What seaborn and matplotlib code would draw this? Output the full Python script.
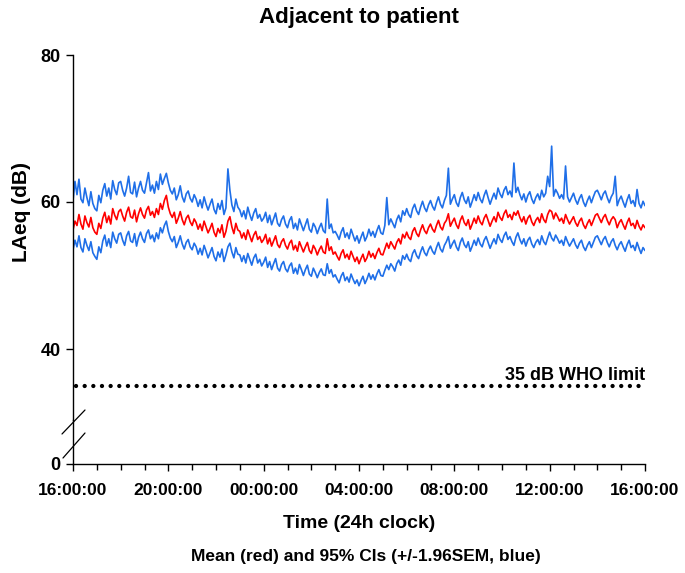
import numpy as np
import pandas as pd
import matplotlib
matplotlib.use("Agg")
import matplotlib.pyplot as plt
from matplotlib.lines import Line2D
import seaborn as sns

# ---- data (5-minute resolution, 16:00 -> 16:00 next day), dB ----
mean_db = [
    56.2, 57.4, 56.8, 58.3, 57.0, 56.3, 58.1, 57.2, 56.6, 57.9, 56.5, 55.9,
    55.6, 57.1, 56.4, 57.8, 58.6, 57.2, 58.1, 57.0, 59.1, 58.2, 57.6, 58.7,
    59.0, 58.1, 57.4, 58.6, 59.3, 58.0, 57.8, 58.9, 57.3, 58.4, 59.2, 58.3,
    57.8, 58.9, 59.4, 58.2, 58.7, 57.9, 59.1, 58.3, 59.8, 59.0, 60.2, 60.9,
    59.3, 58.4, 57.9, 58.6, 57.1, 57.8, 58.7, 57.6, 56.9, 57.8, 58.2, 57.3,
    56.8, 57.7, 57.2, 56.3, 57.0, 56.1, 57.4, 56.6, 55.8, 56.4, 57.1, 55.9,
    55.3, 56.4, 55.8, 56.9, 55.2, 56.0, 57.4, 58.0, 56.6, 55.7, 57.1, 56.2,
    56.0, 55.1, 55.8, 54.9, 56.2, 55.4, 54.6, 55.5, 56.0, 54.9, 55.3, 54.5,
    54.9, 55.6, 54.3, 55.1, 54.0, 54.7, 55.4, 54.2, 53.8, 54.6, 55.0, 54.1,
    53.6, 54.4, 54.8, 53.5, 54.1, 53.3, 54.6, 53.9, 53.2, 53.9, 54.5, 53.4,
    53.0, 54.1, 53.6, 52.8, 53.5, 54.0, 53.2, 53.0, 55.0, 53.4, 53.9, 52.9,
    53.2, 52.6, 52.1, 53.0, 53.5, 52.4, 52.9, 52.2, 53.3, 52.6, 51.9, 52.5,
    51.6, 52.3, 52.9, 51.9, 52.4, 53.3, 52.5, 53.0, 52.3, 53.1, 53.7, 52.9,
    52.8, 53.6, 54.4, 53.7, 54.6, 54.1, 53.6, 54.5, 55.0, 54.3, 55.6, 55.1,
    55.9, 55.2, 54.9, 56.0, 56.5, 55.7, 55.3, 56.2, 56.9, 56.1, 55.7, 56.5,
    57.0, 56.3, 55.9, 56.8, 57.5, 56.6, 56.2, 57.1, 57.5, 58.4, 56.7, 57.3,
    57.8, 56.9, 56.4, 57.5, 58.1, 57.2, 56.8, 57.6, 56.3, 57.0, 57.8, 57.1,
    58.1, 57.3, 56.9, 57.8, 58.3, 57.5, 56.7, 57.4, 58.0, 57.3, 58.6, 57.9,
    57.5, 58.4, 58.9, 57.9, 58.3, 57.6, 58.6, 58.2, 58.8, 57.9, 57.3, 58.0,
    57.0, 57.8, 58.2, 57.3, 56.8, 57.5, 57.9, 57.2, 58.4, 57.6, 57.2, 58.3,
    58.9, 58.7, 57.7, 58.5, 58.0, 57.4, 57.8, 57.1, 58.3, 57.6, 57.0, 57.5,
    58.0, 57.2, 56.7, 57.4, 57.8, 56.9, 56.4, 57.1, 57.6, 56.8, 57.5, 58.2,
    58.4, 57.8, 57.2, 57.9, 58.3, 57.5, 56.9, 57.6, 58.0, 57.6, 56.5, 57.2,
    57.6, 56.9, 56.3, 57.2, 57.8, 56.8, 57.1, 56.4, 57.5, 56.7, 56.2, 56.9,
    56.5,
]
upper_db = [
    60.2, 62.8, 61.0, 63.1, 60.4, 59.9, 61.9, 60.6, 59.5, 61.4, 59.8, 59.1,
    58.8, 60.9, 59.9, 61.6, 62.5, 60.8, 61.9, 60.4, 62.9, 61.7, 61.0, 62.6,
    62.8, 61.6, 60.8, 61.9, 63.5, 61.3, 61.1, 62.7, 60.7, 61.9, 62.8, 61.6,
    61.2, 62.6, 64.0, 61.5, 62.3, 61.2, 62.8, 61.7, 63.8, 62.4, 63.2, 63.9,
    62.6, 61.6, 61.1, 61.9, 60.3, 61.0, 62.2, 60.7, 60.0, 61.1, 61.5, 60.5,
    60.0, 61.0, 60.4, 59.4, 60.3, 59.2, 60.7, 59.7, 58.9, 59.7, 60.4, 59.0,
    58.4, 59.8, 59.0, 60.2, 58.3, 59.2, 64.5, 61.6, 59.6, 58.7, 60.4, 59.3,
    58.9, 58.0, 58.8, 57.7, 59.3, 58.3, 57.5, 58.5, 59.1, 57.8, 58.3, 57.4,
    57.8, 58.6, 57.2, 58.2, 56.9, 57.7, 58.5, 57.1, 56.7, 57.6, 58.1, 57.0,
    56.5, 57.5, 58.0, 56.4, 57.1, 56.2, 57.7, 56.9, 56.1, 56.9, 57.7, 56.3,
    55.9, 57.1, 56.6, 55.7, 56.5, 57.1, 56.1, 55.8, 60.4, 56.4, 57.0, 55.8,
    56.0, 55.5, 54.9, 55.9, 56.5, 55.2, 55.8, 55.0, 56.3, 55.5, 54.7, 55.4,
    54.4, 55.2, 55.9, 54.7, 55.3, 56.3, 55.4, 56.0, 55.2, 56.1, 56.8, 55.8,
    55.6, 56.8, 60.6, 56.9, 57.7, 57.1, 56.5, 57.6, 58.2, 57.3, 58.8, 58.2,
    59.1, 58.3, 57.9, 59.1, 59.7, 58.8, 58.3, 59.3, 60.1, 59.2, 58.7, 59.6,
    60.2, 59.4, 58.9, 59.9, 60.7, 59.7, 59.2, 60.2, 60.9, 64.6, 59.7, 60.4,
    61.0, 59.9, 59.4, 60.6, 61.3, 60.3, 59.8, 60.7, 59.3, 60.1, 61.0, 60.2,
    61.3, 60.4, 59.9, 60.9, 61.6, 60.6, 59.7, 60.5, 61.2, 60.4, 61.9, 61.1,
    60.6, 61.6, 62.1, 61.0, 61.5, 60.7, 65.3, 61.3, 62.0, 61.0, 60.3, 61.1,
    60.0, 60.9, 61.4, 60.4, 59.8, 60.6, 61.1, 60.3, 61.6, 60.7, 61.2, 63.5,
    62.1, 67.6, 60.8, 61.7, 61.2, 60.5, 61.0, 60.4, 64.9, 60.7, 60.0, 60.6,
    61.2, 60.3, 59.7, 60.5, 61.0, 60.0, 59.4, 60.2, 60.8, 59.9, 60.7, 61.4,
    61.6, 61.0, 60.3, 61.1, 61.5, 60.6, 59.9, 60.7, 61.2, 63.5, 59.5, 60.3,
    60.8, 60.0, 59.3, 60.3, 61.0, 59.8, 60.2, 59.4, 61.7, 59.8, 59.2, 60.1,
    59.5,
]
lower_db = [
    53.5, 54.8, 53.9, 55.4, 53.8, 53.2, 55.0, 54.1, 53.4, 54.6, 53.1, 52.6,
    52.2, 53.9, 53.1, 54.7, 55.5, 54.0, 55.0, 53.8, 55.9, 55.0, 54.4, 55.6,
    55.8, 54.8, 54.1, 55.4, 56.0, 54.7, 54.5, 55.7, 54.0, 55.2, 55.9, 55.0,
    54.5, 55.7, 56.2, 55.0, 55.5, 54.6, 55.8, 55.0, 56.5, 55.8, 56.8, 57.4,
    56.0, 55.1, 54.6, 55.3, 53.8, 54.5, 55.4, 54.3, 53.6, 54.5, 54.9, 53.9,
    53.5, 54.4, 53.9, 52.9, 53.7, 52.8, 54.1, 53.3, 52.4, 53.1, 53.8, 52.6,
    52.0, 53.2, 52.5, 53.6, 51.9, 52.8, 53.9, 54.4, 53.2, 52.4, 53.8, 52.9,
    52.8, 51.9, 52.7, 51.7, 53.0, 52.2, 51.4, 52.4, 52.9, 51.7, 52.2, 51.3,
    51.8, 52.5, 51.1, 51.9, 50.8, 51.6, 52.3, 51.0, 50.6, 51.5, 51.9, 50.9,
    50.5, 51.3, 51.7, 50.3, 51.0, 50.2, 51.5, 50.8, 50.0, 50.8, 51.4, 50.2,
    49.9, 51.0, 50.4, 49.7, 50.4, 50.9, 50.1, 50.0, 51.6, 50.3, 50.8, 49.8,
    50.1, 49.5, 49.0, 49.9, 50.4, 49.3, 49.8, 49.1, 50.2, 49.5, 48.9, 49.4,
    48.6, 49.3, 49.9, 48.9, 49.5, 50.3, 49.5, 50.1, 49.4, 50.2, 50.8, 50.0,
    49.9, 50.7, 51.4, 50.8, 51.6, 51.2, 50.6, 51.6, 52.1, 51.4, 52.7, 52.2,
    52.9, 52.2, 51.9, 53.0, 53.5, 52.7, 52.3, 53.2, 53.9, 53.1, 52.7, 53.5,
    54.0, 53.3, 52.9, 53.8, 54.5, 53.6, 53.2, 54.1, 54.6, 55.3, 53.7, 54.3,
    54.8, 53.9, 53.4, 54.5, 55.1, 54.2, 53.8, 54.6, 53.3, 54.0, 54.8, 54.1,
    55.1, 54.3, 53.9, 54.8, 55.3, 54.5, 53.7, 54.4, 55.0, 54.3, 55.6, 54.9,
    54.5, 55.4, 55.9, 54.9, 55.3, 54.6, 54.1, 55.2, 55.8, 54.9, 54.3, 55.0,
    54.0, 54.8, 55.2, 54.3, 53.8, 54.5, 54.9, 54.2, 55.4, 54.6, 54.2, 55.1,
    55.9, 55.1, 54.7, 55.5, 55.0, 54.4, 54.8, 54.1, 55.3, 54.6, 54.0, 54.5,
    55.0, 54.2, 53.7, 54.4, 54.8, 53.9, 53.4, 54.1, 54.6, 53.8, 54.5, 55.2,
    55.4, 54.8, 54.2, 54.9, 55.3, 54.5, 53.9, 54.6, 55.0, 54.1, 53.5, 54.2,
    54.6, 53.9, 53.3, 54.2, 54.8, 53.8, 54.1, 53.4, 54.5, 53.7, 53.0, 53.8,
    53.4,
]
who_limit = 35
tick_labels = ["16:00:00", "20:00:00", "00:00:00", "04:00:00",
               "08:00:00", "12:00:00", "16:00:00"]

n = min(len(mean_db), len(upper_db), len(lower_db))
hours = np.arange(n) * 24.0 / (n - 1)
df = pd.DataFrame({"hours": hours, "mean": mean_db[:n],
                   "upper": upper_db[:n], "lower": lower_db[:n]})

sns.set_theme(style="ticks")
plt.rcParams["font.family"] = ["Liberation Sans", "DejaVu Sans"]
plt.rcParams["font.weight"] = "bold"
plt.rcParams["text.color"] = "black"
plt.rcParams["axes.labelcolor"] = "black"
plt.rcParams["xtick.color"] = "black"
plt.rcParams["ytick.color"] = "black"

W, H = 685, 573
fig = plt.figure(figsize=(W / 100, H / 100), dpi=100)

def fx(px):
    return px / W

def fy(py):
    return 1 - py / H

left, right = 73, 645
top_ax_top, top_ax_bot, bot_ax_bot = 55, 420, 464
px_per_db = (348 - 201) / 20.0

ax = fig.add_axes([fx(left), fy(top_ax_bot), fx(right - left),
                   (top_ax_bot - top_ax_top) / H])
axb = fig.add_axes([fx(left), fy(bot_ax_bot), fx(right - left),
                    (bot_ax_bot - top_ax_bot) / H], sharex=ax)

blue = "#1f6fe8"
red = "#ff0000"
for col, c in [("upper", blue), ("lower", blue), ("mean", red)]:
    sns.lineplot(data=df, x="hours", y=col, ax=ax, color=c, lw=1.2,
                 estimator=None, legend=False)

# WHO limit
ax.plot([0.12, 24], [who_limit, who_limit], color="black",
        lw=3.1, linestyle=(0, (0.01, 2.0)), dash_capstyle="round")
ax.text(24, 35.85, f"{who_limit} dB WHO limit",
        ha="right", va="baseline", fontsize=13, fontweight="bold",
        color="black")

ax.set_xlim(0, 24)
ax.set_ylim(80 - (top_ax_bot - top_ax_top) / px_per_db, 80)
axb.set_ylim(0, (bot_ax_bot - top_ax_bot) / px_per_db)

ax.set_yticks([40, 60, 80])
axb.set_yticks([0])
for a in (ax, axb):
    a.spines["right"].set_visible(False)
    a.spines["top"].set_visible(False)
    for s in ("left", "bottom"):
        a.spines[s].set_linewidth(1.0)
        a.spines[s].set_color("black")
    a.tick_params(axis="y", direction="out", length=5, width=1.0,
                  labelsize=13, pad=4, colors="black")
    a.set_facecolor("none")
    a.set_xlabel("")
    a.set_ylabel("")
ax.spines["bottom"].set_visible(False)
ax.tick_params(axis="x", which="both", bottom=False, labelbottom=False)

axb.set_xticks(np.arange(0, 25, 4))
axb.set_xticks(np.arange(0, 25, 1), minor=True)
axb.set_xticklabels(tick_labels)
axb.tick_params(axis="x", which="major", direction="out", length=5,
                width=1.0, labelsize=12.5, pad=9, colors="black")
axb.tick_params(axis="x", which="minor", direction="out", length=4,
                width=1.0, colors="black")
for lab in axb.get_xticklabels() + axb.get_yticklabels() + ax.get_yticklabels():
    lab.set_fontweight("bold")

# axis break marks
for (x0, y0, x1, y1) in [(62, 434, 85, 410), (63, 458, 85, 433)]:
    fig.add_artist(Line2D([fx(x0), fx(x1)], [fy(y0), fy(y1)],
                          color="black", lw=0.9, transform=fig.transFigure))

fig.text(fx(359), fy(18), "Adjacent to patient", ha="center", va="center",
         fontsize=16, fontweight="bold")
fig.text(fx(22), fy(212), "LAeq (dB)", ha="center", va="center",
         rotation=90, fontsize=15, fontweight="bold")
fig.text(fx(359), fy(523), "Time (24h clock)", ha="center", va="center",
         fontsize=14, fontweight="bold")
fig.text(fx(366), fy(557), "Mean (red) and 95% CIs (+/-1.96SEM, blue)",
         ha="center", va="center", fontsize=12.5, fontweight="bold")

fig.savefig("out.png", dpi=100)
